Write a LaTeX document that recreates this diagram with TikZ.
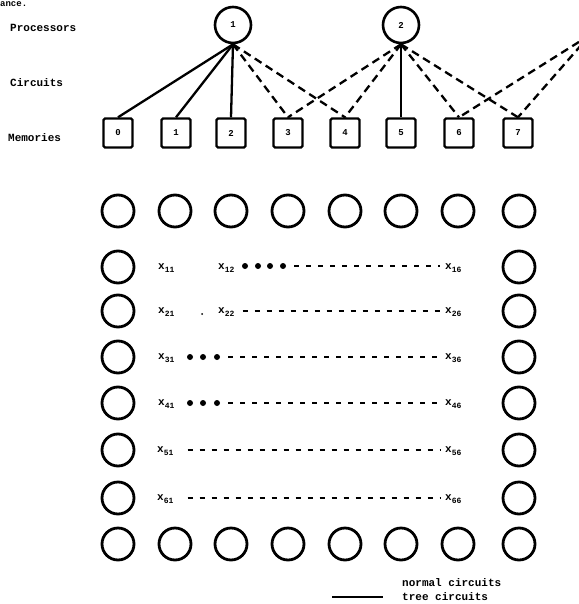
\documentclass[tikz,border=0pt]{standalone}
\usepackage{fontspec}
\newfontfamily\typ{Liberation Mono}
% subscripted matrix entry
\newcommand\xs[1]{x\raisebox{-0.5ex}{\fontsize{8}{8}\selectfont #1}}
\begin{document}
\begin{tikzpicture}[x=1pt,y=-1pt,
  lab/.style={font=\typ\bfseries\fontsize{11}{12}\selectfont, inner sep=0pt, anchor=west},
  proc/.style={circle, draw, line width=2.6pt, minimum size=36pt, inner sep=0pt,
               font=\typ\bfseries\fontsize{9}{9}\selectfont},
  mem/.style={draw, line width=2.4pt, minimum size=29pt, inner sep=0pt, rounded corners=1.5pt,
              font=\typ\bfseries\fontsize{9}{9}\selectfont},
  cell/.style={circle, draw, line width=2.8pt, minimum size=32pt, inner sep=0pt},
  tree/.style={line width=2.3pt},
  normal/.style={line width=2.3pt, dash pattern=on 8pt off 5pt},
  rowline/.style={line width=2.6pt, dash pattern=on 5pt off 7pt, shorten <=8pt, shorten >=5pt},
  dot/.style={circle, fill, inner sep=0pt, minimum size=6pt},
  speck/.style={circle, fill, inner sep=0pt, minimum size=2pt},
]
\useasboundingbox (0,0) rectangle (578,604);

% end of the preceding line of text
\node[lab, anchor=base west, font=\typ\bfseries\fontsize{9}{9}\selectfont] (prev) at (0,7) {ance.};

% row labels
\node[lab] (lp) at (10,28) {Processors};
\node[lab] (lc) at (10,83) {Circuits};
\node[lab] (lm) at (8,138) {Memories};

% processors
\node[proc] (P1) at (233,25) {1};
\node[proc] (P2) at (401,25) {2};
\coordinate (P3) at (590,35);

% memories
\foreach \i/\x in {0/118,1/176,2/231,3/288,4/345,5/401,6/459,7/518}
  \node[mem] (M\i) at (\x,133) {\i};

% tree circuits
\foreach \m in {0,1,2} \draw[tree] (P1.south) -- (M\m.north);
\draw[tree] (P2.south) -- (M5.north);

% normal circuits
\foreach \m in {3,4} \draw[normal] (P1.south) -- (M\m.north);
\foreach \m in {3,4,6,7} \draw[normal] (P2.south) -- (M\m.north);
\foreach \m in {6,7} \draw[normal] (P3) -- (M\m.north);

% border cells of the array
\foreach \i/\x in {1/118,2/175,3/231,4/288,5/345,6/401,7/458,8/519} {
  \node[cell] (T\i) at (\x,211) {};
  \node[cell] (B\i) at (\x,544) {};
}
\foreach \r/\y in {1/267,2/311,3/357,4/403,5/450,6/498} {
  \node[cell] (L\r) at (118,\y) {};
  \node[cell] (R\r) at (519,\y) {};
}

% row 1
\node[lab] (x11) at (158,268) {\xs{11}};
\node[lab] (x12) at (218,268) {\xs{12}};
\node[dot] (a1) at (245,266) {};
\node[dot] (a2) at (258,266) {};
\node[dot] (a3) at (270,266) {};
\node[dot] (a4) at (283,266) {};
\node[lab] (x16) at (445,268) {\xs{16}};
\draw[rowline] (a4) -- (x16.west |- a4);

% row 2
\node[lab] (x21) at (158,312) {\xs{21}};
\node[speck] (s2) at (202,314) {};
\node[lab] (x22) at (218,312) {\xs{22}};
\node[lab] (x26) at (445,312) {\xs{26}};
\draw[rowline] (x22.east |- 0,311) -- (x26.west |- 0,311);

% row 3
\node[lab] (x31) at (158,358) {\xs{31}};
\node[dot] (b1) at (190,357) {};
\node[dot] (b2) at (203,357) {};
\node[dot] (b3) at (217,357) {};
\node[lab] (x36) at (445,358) {\xs{36}};
\draw[rowline] (b3) -- (x36.west |- b3);

% row 4
\node[lab] (x41) at (158,404) {\xs{41}};
\node[dot] (c1) at (190,403) {};
\node[dot] (c2) at (203,403) {};
\node[dot] (c3) at (217,403) {};
\node[lab] (x46) at (445,404) {\xs{46}};
\draw[rowline] (c3) -- (x46.west |- c3);

% row 5
\node[lab] (x51) at (157,451) {\xs{51}};
\node[lab] (x56) at (445,451) {\xs{56}};
\draw[rowline, shorten <=14pt] (x51.east |- 0,450) -- (x56.west |- 0,450);

% row 6
\node[lab] (x61) at (157,499) {\xs{61}};
\node[lab] (x66) at (445,499) {\xs{66}};
\draw[rowline, shorten <=14pt] (x61.east |- 0,498) -- (x66.west |- 0,498);

% legend
\node[lab] (ln) at (402,583) {normal circuits};
\node[lab] (lt) at (402,597) {tree circuits};
\coordinate (t0) at (332,597);
\coordinate (t1) at (383,597);
\draw[tree] (t0) -- (t1);
\end{tikzpicture}
\end{document}
